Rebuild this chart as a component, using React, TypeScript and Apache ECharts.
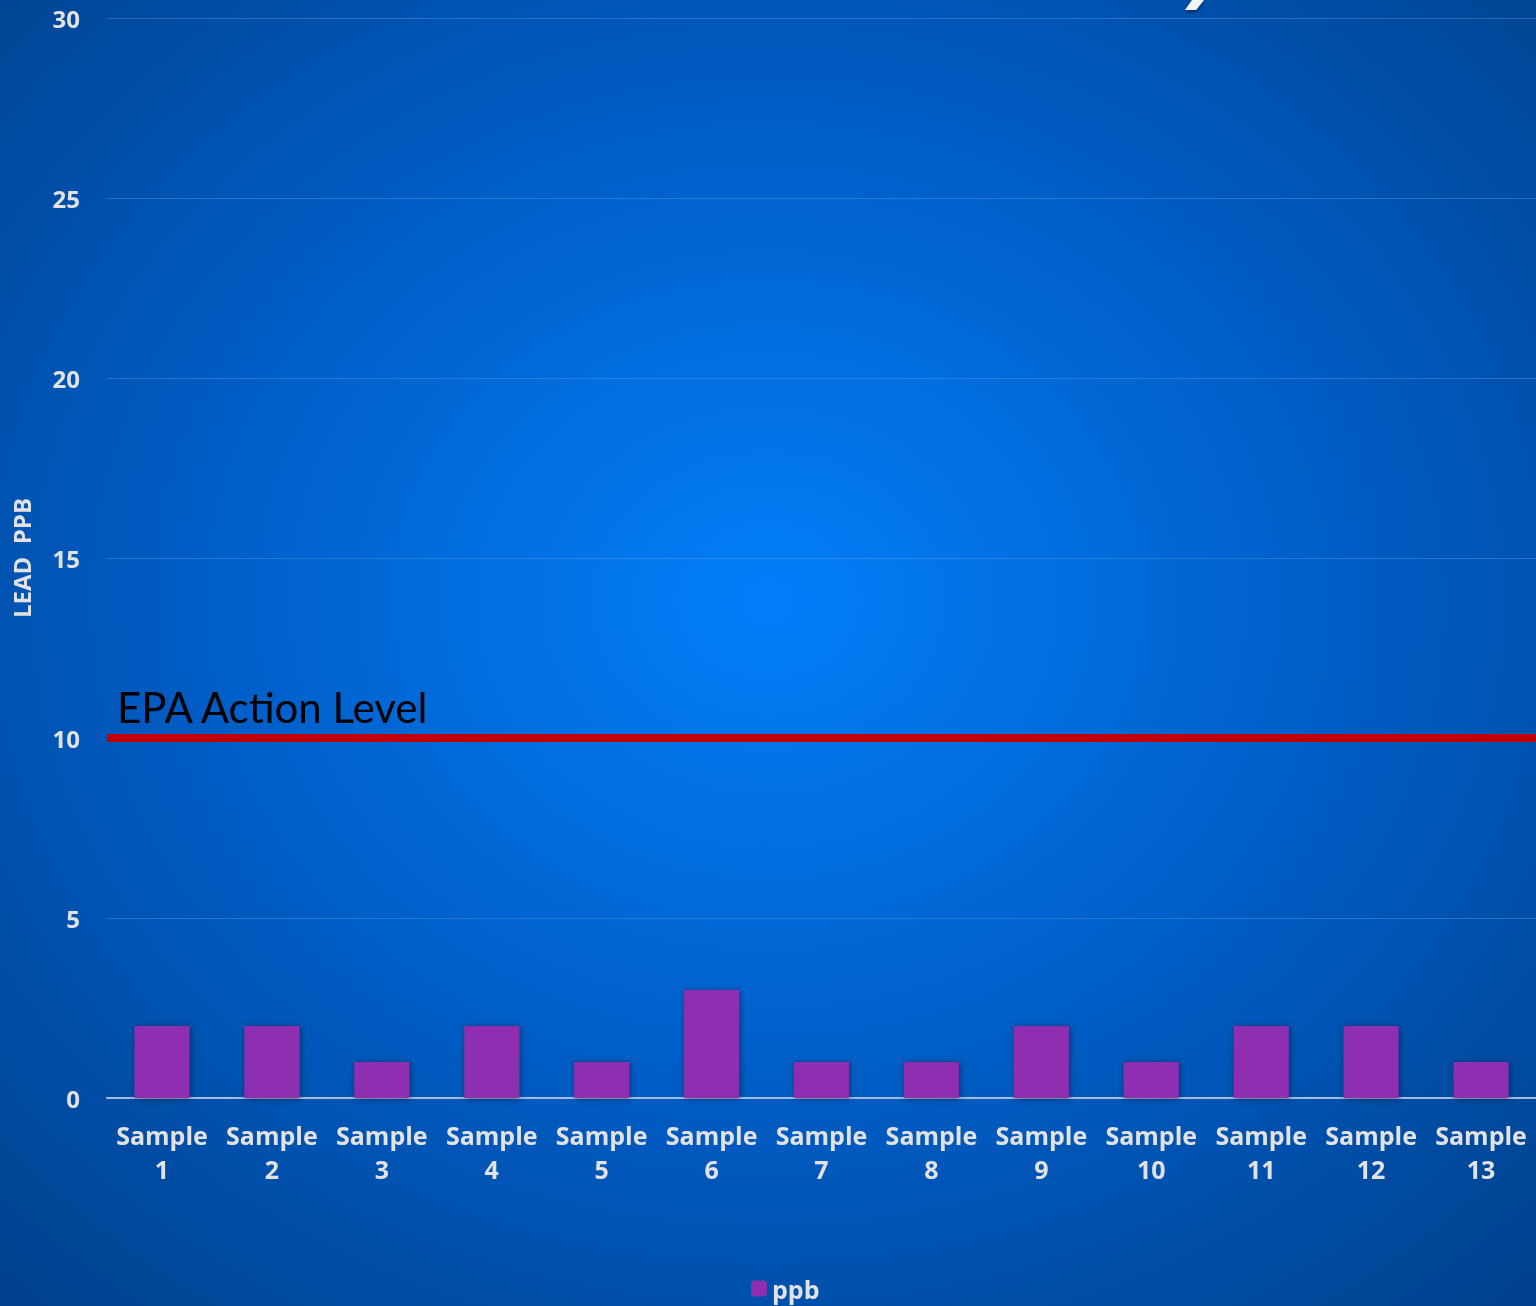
import React, { useEffect, useRef } from "react";
import * as echarts from "echarts";

const categories = [
  "Sample\n1", "Sample\n2", "Sample\n3", "Sample\n4", "Sample\n5", "Sample\n6", "Sample\n7",
  "Sample\n8", "Sample\n9", "Sample\n10", "Sample\n11", "Sample\n12", "Sample\n13",
];
const ppbValues = [2, 2, 1, 2, 1, 3, 1, 1, 2, 1, 2, 2, 1];
const actionLevel = 10;
const actionLabel = "EPA Action Level";
const yTicks = { min: 0, max: 30, interval: 5 };

const FONT = "'Open Sans', Lato, sans-serif";

export default function App() {
  const ref = useRef<HTMLDivElement>(null);
  useEffect(() => {
    if (!ref.current) return;
    const chart = echarts.init(ref.current, undefined, { renderer: "svg" });
    chart.setOption({
      animation: false,
      backgroundColor: {
        type: "radial",
        x: 0.5,
        y: 0.46,
        r: 0.85,
        colorStops: [
          { offset: 0, color: "#037ffa" },
          { offset: 0.45, color: "#005cc4" },
          { offset: 1, color: "#00387a" },
        ],
      },
      grid: { left: 107, right: 0, top: 18, bottom: 208, containLabel: false },
      legend: {
        data: ["ppb"],
        left: 746,
        top: 1271,
        itemWidth: 16,
        itemHeight: 16,
        itemGap: 8,
        textStyle: { color: "#e2e2e2", fontSize: 25, fontWeight: "bold", fontFamily: FONT },
      },
      xAxis: {
        type: "category",
        data: categories,
        axisLine: { lineStyle: { color: "#a6bcd8", width: 2 } },
        axisTick: { show: false },
        axisLabel: {
          color: "#e2e2e2",
          fontSize: 25,
          fontWeight: "bold",
          fontFamily: FONT,
          lineHeight: 34,
          margin: 20,
          interval: 0,
        },
      },
      yAxis: {
        type: "value",
        min: yTicks.min,
        max: yTicks.max,
        interval: yTicks.interval,
        name: "LEAD  PPB",
        nameLocation: "middle",
        nameGap: 74,
        nameTextStyle: { color: "#e2e2e2", fontSize: 24, fontWeight: "bold", fontFamily: FONT },
        axisLine: { show: false },
        axisTick: { show: false },
        axisLabel: {
          color: "#e2e2e2",
          fontSize: 24,
          fontWeight: "bold",
          fontFamily: FONT,
          margin: 27,
        },
        splitLine: { lineStyle: { color: "rgba(120,170,230,0.35)", width: 1 } },
      },
      graphic: [
        {
          type: "polygon",
          shape: { points: [[1192, 0], [1204, 0], [1196, 10], [1185, 10]] },
          style: { fill: "#f4f4f4", shadowBlur: 4, shadowColor: "rgba(0,0,0,0.5)", shadowOffsetY: 2 },
        },
      ],
      series: [
        {
          name: "ppb",
          type: "bar",
          data: ppbValues,
          barWidth: "50%",
          itemStyle: {
            color: "#8e2fb1",
            shadowBlur: 6,
            shadowColor: "rgba(0,0,0,0.45)",
            shadowOffsetX: 1,
            shadowOffsetY: 1,
          },
          markLine: {
            silent: true,
            symbol: "none",
            data: [{ yAxis: actionLevel }],
            lineStyle: { color: "#c00000", width: 8, type: "solid" },
            label: {
              show: true,
              position: "insideStartTop",
              formatter: actionLabel,
              color: "#000000",
              fontSize: 42,
              fontFamily: "Lato, sans-serif",
              distance: [10, 10],
            },
          },
        },
      ],
    });
    return () => chart.dispose();
  }, []);
  return (
    <div
      ref={ref}
      style={{ position: "fixed", left: 0, top: 0, width: 1536, height: 1306 }}
    />
  );
}
